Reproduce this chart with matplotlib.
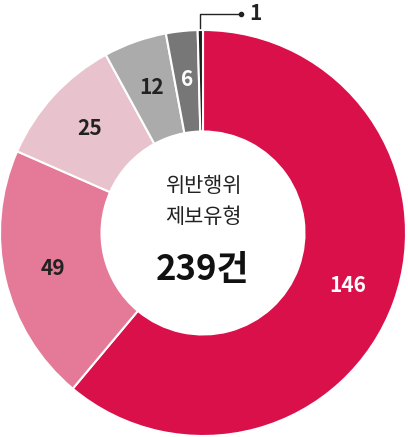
import matplotlib.pyplot as plt
import numpy as np

plt.rcParams['font.family'] = ['Noto Sans CJK KR', 'DejaVu Sans']

values = [146, 49, 25, 12, 6, 1]
labels = ['146', '49', '25', '12', '6', '1']
colors = ['#D9104A', '#E57A98', '#E8C2CD', '#ABABAB', '#777777', '#1E1E1E']
label_colors = ['white', '#222222', '#222222', '#222222', 'white', '#222222']

fig = plt.figure(figsize=(4.08, 4.37), dpi=100)
ax = fig.add_axes([0, 0, 1, 1])
cx, cy, r = 203, 233, 203

wedges, _ = ax.pie(values, colors=colors, startangle=90, counterclock=False,
                   radius=1, wedgeprops=dict(width=0.5, edgecolor='white', linewidth=1.5))

ax.set_xlim(-cx / r, (408 - cx) / r)
ax.set_ylim(-(437 - cy) / r, cy / r)
ax.set_aspect('equal')
ax.axis('off')

for w, lab, lc in zip(wedges[:-1], labels[:-1], label_colors[:-1]):
    ang = np.deg2rad((w.theta1 + w.theta2) / 2)
    ax.text(0.76 * np.cos(ang), 0.76 * np.sin(ang), lab, color=lc,
            fontsize=15, fontweight='bold', ha='center', va='center')

# leader for the smallest slice
w = wedges[-1]
ang = np.deg2rad((w.theta1 + w.theta2) / 2)
x0 = np.cos(ang)
ax.plot([x0, x0, x0 + 0.2], [1.01, 1.08, 1.08], color='#222222', lw=1)
ax.plot([x0 + 0.2], [1.08], 'o', color='#222222', ms=3)
ax.text(x0 + 0.24, 1.08, labels[-1], fontsize=15, fontweight='bold', ha='left', va='center', color='#222222')

ax.text(0, 0.23, '위반행위', fontsize=15, ha='center', va='center', color='#222222')
ax.text(0, 0.08, '제보유형', fontsize=15, ha='center', va='center', color='#222222')
ax.text(0, -0.18, '239건', fontsize=25, fontweight='bold', ha='center', va='center', color='#111111')

fig.savefig('out.png', dpi=100)
